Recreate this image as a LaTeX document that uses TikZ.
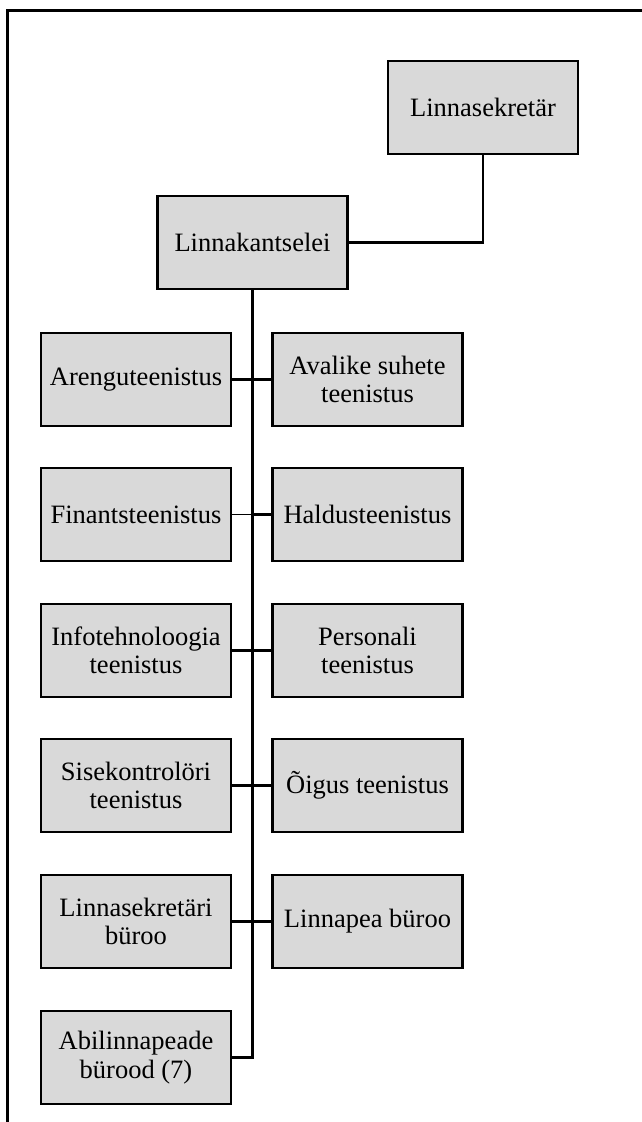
\documentclass[tikz,border=0pt]{standalone}
\usepackage{fontspec}
\setmainfont{Liberation Serif}
\definecolor{boxgray}{HTML}{D9D9D9}
\begin{document}
\begin{tikzpicture}[x=1pt,y=-1pt,
  unit/.style={draw=black, line width=2.8pt, fill=boxgray,
    minimum width=190pt, minimum height=93pt, align=center,
    font=\fontsize{26.5}{28.5}\selectfont, inner sep=2pt},
  link/.style={line width=2.8pt},
  thinlink/.style={line width=1pt},
  frameline/.style={line width=3pt}]
\useasboundingbox (0,0) rectangle (642,1122);

% page frame: top and left edges only
\coordinate (fb) at (7,1122);
\coordinate (fc) at (7,10);
\coordinate (fr) at (642,10);
\draw[frameline] (fb) -- (fc) -- (fr);

% top of the structure
\node[unit] (sek) at (483,107.5) {Linnasekretär};
\node[unit] (kant) at (252.5,242.5) {Linnakantselei};

% services, left and right columns
\node[unit] (l1) at (136,379.5) {Arenguteenistus};
\node[unit] (r1) at (367.5,379.5) {Avalike suhete\\teenistus};
\node[unit] (l2) at (136,514.5) {Finantsteenistus};
\node[unit] (r2) at (367.5,514.5) {Haldusteenistus};
\node[unit] (l3) at (136,650.5) {Infotehnoloogia\\teenistus};
\node[unit] (r3) at (367.5,650.5) {Personali\\teenistus};
\node[unit] (l4) at (136,785.5) {Sisekontrolöri\\teenistus};
\node[unit] (r4) at (367.5,785.5) {Õigus teenistus};
\node[unit] (l5) at (136,921.5) {Linnasekretäri\\büroo};
\node[unit] (r5) at (367.5,921.5) {Linnapea büroo};
\node[unit] (l6) at (136,1057.5) {Abilinnapeade\\bürood (7)};

% Linnasekretär to Linnakantselei
\draw[line width=2.2pt] (sek.south) |- (kant.east);

% main trunk
\coordinate (tend) at (kant.south |- l6.east);
\draw[link] (kant.south) -- (tend) -- (l6.east);

% row connectors
\draw[link] (l1.east) -- (r1.west);
\coordinate (t2) at (kant.south |- l2.east);
\draw[thinlink] (l2.east) -- (t2);
\draw[link] (t2) -- (r2.west);
\draw[link] (l3.east) -- (r3.west);
\draw[link] (l4.east) -- (r4.west);
\draw[link] (l5.east) -- (r5.west);
\end{tikzpicture}
\end{document}
